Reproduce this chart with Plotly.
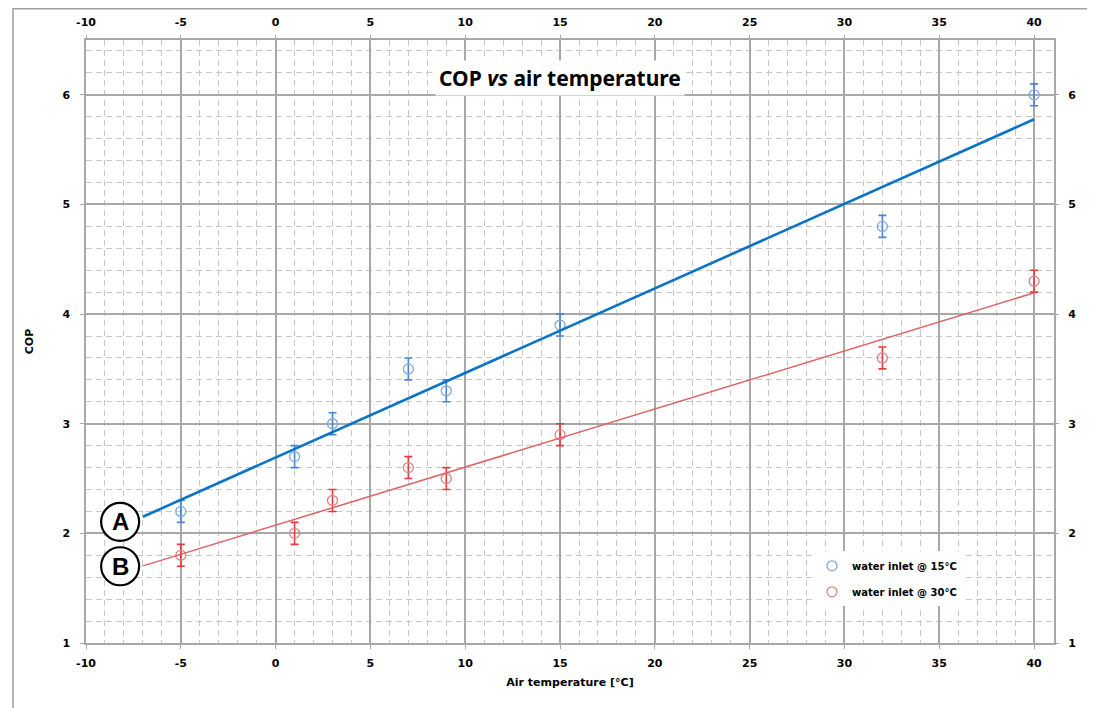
import numpy as np
import plotly.graph_objects as go

# ---- data ----
air_temp = [-5, 1, 3, 7, 9, 15, 32, 40]
cop_15 = [2.2, 2.7, 3.0, 3.5, 3.3, 3.9, 4.8, 6.0]
cop_30 = [1.8, 2.0, 2.3, 2.6, 2.5, 2.9, 3.6, 4.3]
err_15 = [0.1] * 8
err_30 = [0.1] * 8
trend_x = [-7, 40]
series_names = ["water inlet @ 15°C", "water inlet @ 30°C"]
x_tickvals = [-10, -5, 0, 5, 10, 15, 20, 25, 30, 35, 40]
x_ticktext = ["-10", "-5", "0", "5", "10", "15", "20", "25", "30", "35", "40"]
y_tickvals = [1, 2, 3, 4, 5, 6]
x_range = [-10, 41.05]
y_range = [1, 6.5]

BLUE_LINE = "#0a73c8"
RED_LINE = "#e06262"
BLUE_MK = "#7fa8dc"
RED_MK = "#d98585"
BLUE_ERR = "#4a86cf"
RED_ERR = "#e83a3a"
FONT = "DejaVu Sans"

# plot area in figure pixels (page body adds an 8px offset)
L, R, T, B = 78, 1046, 32, 635
W, H = 1095, 708

fig = go.Figure()

def fit_line(x, y):
    k, b = np.polyfit(x, y, 1)
    return [k * t + b for t in trend_x]

fig.add_trace(go.Scatter(
    x=air_temp, y=cop_15, mode="markers", name=series_names[0],
    legendgroup="a",
    marker=dict(symbol="circle-open", size=10, color=BLUE_MK, line=dict(width=1.3)),
    error_y=dict(type="data", array=err_15, color=BLUE_ERR, thickness=1.6, width=4),
))
fig.add_trace(go.Scatter(
    x=air_temp, y=cop_30, mode="markers", name=series_names[1],
    legendgroup="b",
    marker=dict(symbol="circle-open", size=10, color=RED_MK, line=dict(width=1.3)),
    error_y=dict(type="data", array=err_30, color=RED_ERR, thickness=1.6, width=4),
))
fig.add_trace(go.Scatter(
    x=trend_x, y=fit_line(air_temp, cop_15), mode="lines", showlegend=False,
    line=dict(color=BLUE_LINE, width=2.6), hoverinfo="skip",
))
fig.add_trace(go.Scatter(
    x=trend_x, y=fit_line(air_temp, cop_30), mode="lines", showlegend=False,
    line=dict(color=RED_LINE, width=1.5), hoverinfo="skip",
))
# invisible trace for mirrored axes with labels
fig.add_trace(go.Scatter(x=[None], y=[None], xaxis="x2", yaxis="y2",
                         showlegend=False, hoverinfo="skip"))

tickfont = dict(family=FONT, size=11, color="black", weight="bold")
grid_major = "#a8a8a8"
grid_minor = "#c8c8c8"

common_x = dict(range=x_range, tickmode="array", tickvals=x_tickvals,
                ticktext=x_ticktext, tickfont=tickfont, automargin=False,
                ticks="outside", ticklen=4, tickcolor=grid_major, zeroline=False)
common_y = dict(range=y_range, tickmode="array", tickvals=y_tickvals,
                tickfont=tickfont, automargin=False,
                ticks="outside", ticklen=4, tickcolor=grid_major, zeroline=False)

fig.update_layout(
    width=W, height=H,
    margin=dict(l=L, r=W - R, t=T, b=H - B),
    paper_bgcolor="white", plot_bgcolor="white",
    font=dict(family=FONT, color="black"),
    xaxis=dict(**common_x,
               showgrid=True, gridcolor=grid_major, gridwidth=1.5,
               minor=dict(tick0=-10, dtick=1, showgrid=True, gridcolor=grid_minor,
                          griddash="6px,4px", gridwidth=1, ticks=""),
               showline=True, linecolor=grid_major, linewidth=1.5, mirror=True,
               ticklabelstandoff=5,
               title=dict(text="<b>Air temperature [°C]</b>",
                          font=dict(family=FONT, size=11), standoff=9)),
    yaxis=dict(**common_y,
               showgrid=True, gridcolor=grid_major, gridwidth=1.5,
               minor=dict(tick0=1, dtick=0.2, showgrid=True, gridcolor=grid_minor,
                          griddash="6px,4px", gridwidth=1, ticks=""),
               showline=True, linecolor=grid_major, linewidth=1.5, mirror=True,
               ticklabelstandoff=8,
               title=dict(text="<b>COP</b>", font=dict(family=FONT, size=11),
                          standoff=27)),
    xaxis2=dict(**common_x, overlaying="x", side="top", showgrid=False,
                ticklabelstandoff=5),
    yaxis2=dict(**common_y, overlaying="y", side="right", showgrid=False,
                ticklabelstandoff=7),
    legend=dict(x=0.75, y=0.152, xanchor="left", yanchor="top",
                bgcolor="white", borderwidth=0,
                font=dict(family=FONT, size=10, weight="bold"),
                tracegroupgap=7, itemwidth=30),
    showlegend=True,
)

# title inside plot
fig.add_annotation(x=15, y=6.15, xref="x", yref="y",
                   text="<b>COP <i>vs</i> air temperature</b>",
                   showarrow=False, bgcolor="white",
                   font=dict(family="Noto Sans", size=21, color="black"),
                   borderpad=3)

# A / B labels
for lab, yy in (("A", 2.105), ("B", 1.70)):
    fig.add_shape(type="circle", xref="x", yref="y",
                  xsizemode="pixel", ysizemode="pixel",
                  xanchor=-8.2, yanchor=yy, x0=-19, x1=19, y0=-19, y1=19,
                  line=dict(color="black", width=2.2), fillcolor="white")
    fig.add_annotation(x=-8.2, y=yy, xref="x", yref="y", text="<b>%s</b>" % lab,
                       showarrow=False,
                       font=dict(family="Liberation Sans", size=24, color="black"))

# outer frame
fig.add_shape(type="rect", xref="paper", yref="paper",
              x0=(5 - L) / (R - L), x1=(W + 20 - L) / (R - L),
              y0=-0.3, y1=(B - 0.8) / (B - T),
              line=dict(color="#a0a0a0", width=1.5), layer="below")

fig.write_html("out.html")
